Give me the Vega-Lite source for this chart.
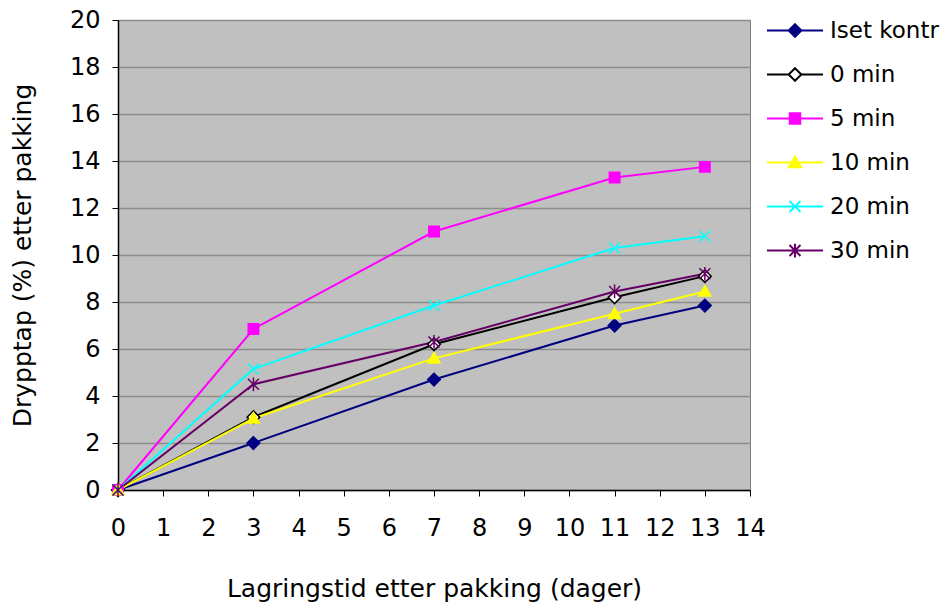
{
  "$schema": "https://vega.github.io/schema/vega-lite/v6.json",
  "width": 632,
  "height": 470,
  "autosize": "none",
  "padding": {"left": 118, "top": 20, "right": 199, "bottom": 114},
  "background": "white",
  "config": {
    "font": "DejaVu Sans",
    "view": {"fill": "#C0C0C0", "stroke": "#808080", "strokeWidth": 1},
    "legend": {"padding": 0}
  },
  "data": {
    "values": [
      {"series": "Iset kontr", "x": 0, "y": 0},
      {"series": "Iset kontr", "x": 3, "y": 2.0},
      {"series": "Iset kontr", "x": 7, "y": 4.7},
      {"series": "Iset kontr", "x": 11, "y": 7.0},
      {"series": "Iset kontr", "x": 13, "y": 7.85},
      {"series": "0 min", "x": 0, "y": 0},
      {"series": "0 min", "x": 3, "y": 3.1},
      {"series": "0 min", "x": 7, "y": 6.2},
      {"series": "0 min", "x": 11, "y": 8.2},
      {"series": "0 min", "x": 13, "y": 9.1},
      {"series": "5 min", "x": 0, "y": 0},
      {"series": "5 min", "x": 3, "y": 6.85},
      {"series": "5 min", "x": 7, "y": 11.0},
      {"series": "5 min", "x": 11, "y": 13.3},
      {"series": "5 min", "x": 13, "y": 13.75},
      {"series": "10 min", "x": 0, "y": 0},
      {"series": "10 min", "x": 3, "y": 3.05},
      {"series": "10 min", "x": 7, "y": 5.6},
      {"series": "10 min", "x": 11, "y": 7.5},
      {"series": "10 min", "x": 13, "y": 8.45},
      {"series": "20 min", "x": 0, "y": 0},
      {"series": "20 min", "x": 3, "y": 5.15},
      {"series": "20 min", "x": 7, "y": 7.85},
      {"series": "20 min", "x": 11, "y": 10.3},
      {"series": "20 min", "x": 13, "y": 10.8},
      {"series": "30 min", "x": 0, "y": 0},
      {"series": "30 min", "x": 3, "y": 4.5},
      {"series": "30 min", "x": 7, "y": 6.3},
      {"series": "30 min", "x": 11, "y": 8.45},
      {"series": "30 min", "x": 13, "y": 9.2}
    ]
  },
  "encoding": {
    "x": {
      "field": "x", "type": "quantitative",
      "scale": {"domain": [0, 14], "nice": false, "zero": false},
      "axis": {
        "title": "Lagringstid etter pakking (dager)",
        "values": [0,1,2,3,4,5,6,7,8,9,10,11,12,13,14],
        "grid": false, "labelOverlap": false, "labelFlush": false,
        "domainColor": "black", "domainWidth": 1.5,
        "tickColor": "black", "tickSize": 6, "tickWidth": 1,
        "labelFontSize": 24, "labelColor": "black", "labelPadding": 20,
        "titleFontSize": 25, "titleFontWeight": "normal", "titleColor": "black", "titlePadding": 36
      }
    },
    "y": {
      "field": "y", "type": "quantitative",
      "scale": {"domain": [0, 20], "nice": false},
      "axis": {
        "title": "Drypptap (%) etter pakking",
        "values": [0,2,4,6,8,10,12,14,16,18,20],
        "grid": true, "gridColor": "#8C8C8C", "gridWidth": 1.5,
        "labelOverlap": false, "labelFlush": false,
        "domainColor": "black", "domainWidth": 1.5,
        "tickColor": "black", "tickSize": 6, "tickWidth": 1,
        "labelFontSize": 24, "labelColor": "black", "labelPadding": 12,
        "titleFontSize": 25, "titleFontWeight": "normal", "titleColor": "black", "titlePadding": 34
      }
    }
  },
  "layer": [
    {
      "mark": {"type": "line", "strokeWidth": 2},
      "encoding": {
        "color": {
          "field": "series", "type": "nominal",
          "scale": {
            "domain": ["Iset kontr", "0 min", "5 min", "10 min", "20 min", "30 min"],
            "range": ["#000080", "#000000", "#FF00FF", "#FFFF00", "#00FFFF", "#660066"]
          },
          "legend": {
            "title": null, "orient": "none", "legendX": 665.5, "legendY": -1,
            "symbolSize": 121, "symbolStrokeWidth": 2,
            "labelFontSize": 23, "labelColor": "black", "labelOffset": 23.5,
            "rowPadding": 20, "labelLimit": 300,
            "encode": {
              "symbols": {
                "update": {
                  "fill": {"scale": "fill", "field": "value"},
                  "stroke": {"scale": "color", "field": "value"},
                  "strokeWidth": {"value": 2},
                  "opacity": {"value": 1},
                  "shape": {"signal": "datum.value === 'Iset kontr' ? 'M-5.1,0L5.1,0M0,-1.15L1.15,0L0,1.15L-1.15,0Z' : datum.value === '0 min' ? 'M-5.1,0L-1.15,0M1.15,0L5.1,0M0,-1.15L1.15,0L0,1.15L-1.15,0Z' : datum.value === '5 min' ? 'M-5.1,0L5.1,0M-0.95,-0.95L0.95,-0.95L0.95,0.95L-0.95,0.95Z' : datum.value === '10 min' ? 'M-5.1,0L5.1,0M0,-1.05L1.1,0.85L-1.1,0.85Z' : datum.value === '20 min' ? 'M-5.1,0L5.1,0M-1,-1L1,1M-1,1L1,-1' : 'M-5.1,0L5.1,0M-1,-1L1,1M-1,1L1,-1M0,-1.25L0,1.25'"}
                }
              }
            }
          }
        }
      }
    },
    {
      "mark": {"type": "point", "filled": false, "size": 121, "strokeWidth": 1.5, "opacity": 1},
      "encoding": {
        "shape": {
          "field": "series", "type": "nominal",
          "scale": {
            "domain": ["30 min", "20 min", "10 min", "5 min", "0 min", "Iset kontr"],
            "range": ["M-1,-1L1,1M-1,1L1,-1M0,-1.25L0,1.25", "M-1,-1L1,1M-1,1L1,-1", "M0,-1.05L1.1,0.85L-1.1,0.85Z", "M-0.95,-0.95L0.95,-0.95L0.95,0.95L-0.95,0.95Z", "M0,-1.15L1.15,0L0,1.15L-1.15,0Z", "M0,-1.15L1.15,0L0,1.15L-1.15,0Z"]
          },
          "legend": null
        },
        "stroke": {
          "field": "series", "type": "nominal",
          "scale": {
            "domain": ["Iset kontr", "0 min", "5 min", "10 min", "20 min", "30 min"],
            "range": ["#000080", "#000000", "#FF00FF", "#FFFF00", "#00FFFF", "#660066"]
          },
          "legend": null
        },
        "fill": {
          "field": "series", "type": "nominal",
          "scale": {
            "domain": ["Iset kontr", "0 min", "5 min", "10 min", "20 min", "30 min"],
            "range": ["#000080", "#FFFFFF", "#FF00FF", "#FFFF00", "#00FFFF", "#660066"]
          },
          "legend": null
        }
      }
    }
  ]
}
